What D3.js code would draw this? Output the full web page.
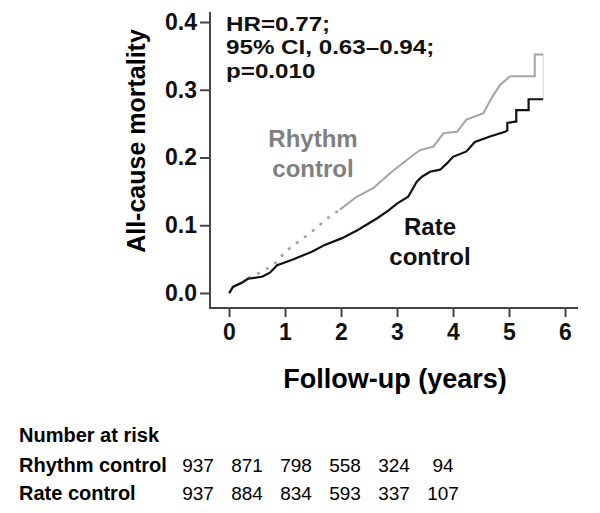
<!DOCTYPE html>
<html>
<head>
<meta charset="utf-8">
<script src="https://cdn.jsdelivr.net/npm/d3@7"></script>
<style>
  body { margin: 0; background: #fff; }
  svg { font-family: "Liberation Sans", Arial, sans-serif; }
</style>
</head>
<body>
<svg width="600" height="513"></svg>
<script>
// x ticks (years) and y ticks
var years = [0, 1, 2, 3, 4, 5, 6];
var yTicks = [0, 0.1, 0.2, 0.3, 0.4];

// Kaplan-Meier curves: [years, cumulative mortality]
var rhythmCurve = [
  [0, 0], [0.02, 0.002], [0.07, 0.009], [0.23, 0.016], [0.34, 0.022], [0.55, 0.03],
  [0.7, 0.037], [0.86, 0.046], [1.0, 0.061], [1.18, 0.072], [1.47, 0.09], [1.8, 0.113],
  [1.98, 0.123], [2.28, 0.142], [2.58, 0.155], [2.88, 0.177], [3.17, 0.196],
  [3.41, 0.211], [3.65, 0.216], [3.83, 0.236], [4.07, 0.238], [4.24, 0.256],
  [4.54, 0.265], [4.69, 0.288], [4.84, 0.307], [5.02, 0.32], [5.46, 0.32],
  [5.46, 0.352], [5.61, 0.352]
];
var rateCurve = [
  [0, 0], [0.02, 0.002], [0.07, 0.009], [0.23, 0.015], [0.34, 0.021], [0.59, 0.024],
  [0.73, 0.03], [0.86, 0.041], [1.13, 0.049], [1.48, 0.061], [1.71, 0.071], [2.02, 0.081],
  [2.3, 0.093], [2.64, 0.11], [2.85, 0.122], [3.0, 0.132], [3.2, 0.142],
  [3.35, 0.164], [3.45, 0.172], [3.59, 0.179], [3.77, 0.182], [3.9, 0.192], [4.0, 0.201],
  [4.24, 0.209], [4.39, 0.223], [4.66, 0.231], [4.93, 0.238], [4.97, 0.24], [4.97, 0.251],
  [5.11, 0.253], [5.13, 0.253], [5.13, 0.27], [5.35, 0.27], [5.35, 0.286], [5.61, 0.286]
];

// number at risk table
var riskGroups = ["Rhythm control", "Rate control"];
var riskRhythm = [937, 871, 798, 558, 324, 94];
var riskRate = [937, 884, 834, 593, 337, 107];
var riskCols = [0, 1, 2, 3, 4, 5];

var svg = d3.select("svg");

var x = d3.scaleLinear().domain([0, 6]).range([229, 565]);
var y = d3.scaleLinear().domain([0, 0.4]).range([293, 22]);

var axisX = 210, axisY = 308, axisColor = "#444";

// y axis
var gy = svg.append("g")
    .attr("transform", "translate(" + axisX + ",0)")
    .call(d3.axisLeft(y).tickValues(yTicks).tickSize(10).tickPadding(3).tickFormat(d3.format(".1f")));
gy.select(".domain").remove();
gy.selectAll("line").attr("stroke", axisColor).attr("stroke-width", 2);
gy.selectAll("text").attr("font-size", 23).attr("font-weight", "bold").attr("fill", "#111")
    .attr("font-family", "Liberation Sans, Arial, sans-serif");
svg.append("line")
    .attr("x1", axisX).attr("x2", axisX).attr("y1", 12).attr("y2", axisY + 1)
    .attr("stroke", axisColor).attr("stroke-width", 2);

// x axis
var gx = svg.append("g")
    .attr("transform", "translate(0," + axisY + ")")
    .call(d3.axisBottom(x).tickValues(years).tickSize(9).tickPadding(7).tickFormat(d3.format("d")));
gx.select(".domain").remove();
gx.selectAll("line").attr("stroke", axisColor).attr("stroke-width", 2);
gx.selectAll("text").attr("font-size", 23).attr("font-weight", "bold").attr("fill", "#111")
    .attr("font-family", "Liberation Sans, Arial, sans-serif");
svg.append("line")
    .attr("x1", axisX - 1).attr("x2", 578).attr("y1", axisY).attr("y2", axisY)
    .attr("stroke", axisColor).attr("stroke-width", 2);

// axis titles
svg.append("text")
    .attr("x", 395).attr("y", 388)
    .attr("text-anchor", "middle")
    .attr("font-size", 27).attr("font-weight", "bold")
    .text("Follow-up (years)");

svg.append("text")
    .attr("transform", "translate(145,141) rotate(-90)")
    .attr("text-anchor", "middle")
    .attr("font-size", 25).attr("font-weight", "bold")
    .text("All-cause mortality");

// curves
var line = d3.line()
    .x(function(d) { return x(d[0]); })
    .y(function(d) { return y(d[1]); });

var last = rhythmCurve.length - 1;
svg.append("line")
    .attr("x1", x(rhythmCurve[last][0])).attr("x2", x(rhythmCurve[last][0]))
    .attr("y1", y(rhythmCurve[last][1])).attr("y2", y(rateCurve[rateCurve.length - 1][1]))
    .attr("stroke", "#d4d4d4").attr("stroke-width", 1);

svg.append("path")
    .datum(rhythmCurve.filter(function(d) { return d[0] <= 0.34; }))
    .attr("fill", "none").attr("stroke", "#a3a3a3").attr("stroke-width", 2)
    .attr("d", line);
svg.append("path")
    .datum(rhythmCurve.filter(function(d) { return d[0] >= 0.34 && d[0] <= 1.98; }))
    .attr("fill", "none").attr("stroke", "#a3a3a3").attr("stroke-width", 2.5)
    .attr("stroke-dasharray", "3,7")
    .attr("d", line);
svg.append("path")
    .datum(rhythmCurve.filter(function(d) { return d[0] >= 1.98; }))
    .attr("fill", "none").attr("stroke", "#a3a3a3").attr("stroke-width", 2)
    .attr("d", line);

svg.append("path")
    .datum(rateCurve)
    .attr("fill", "none").attr("stroke", "#111").attr("stroke-width", 2.2)
    .attr("d", line);

// annotations (glyphs in the reference are wide, so stretch horizontally)
var stats = ["HR=0.77;", "95% CI, 0.63\u20130.94;", "p=0.010"];
svg.append("g")
    .attr("transform", "translate(226,0) scale(1.18,1)")
  .selectAll("text")
    .data(stats)
    .enter().append("text")
      .attr("x", 0)
      .attr("y", function(d, i) { return 31 + i * 23.5; })
      .attr("font-size", 20.5).attr("font-weight", "bold").attr("fill", "#111")
      .text(function(d) { return d; });

function label(lines, cx, y0, color) {
  svg.append("g").selectAll("text")
      .data(lines)
      .enter().append("text")
        .attr("x", cx)
        .attr("y", function(d, i) { return y0 + i * 30; })
        .attr("text-anchor", "middle")
        .attr("font-size", 24).attr("font-weight", "bold").attr("fill", color)
        .text(function(d) { return d; });
}
label(["Rhythm", "control"], 313, 147, "#808080");
label(["Rate", "control"], 430, 235, "#111");

// number at risk
var cx = d3.scaleLinear().domain([0, 5]).range([198, 443]);

svg.append("text")
    .attr("x", 19).attr("y", 442)
    .attr("font-size", 20).attr("font-weight", "bold")
    .text("Number at risk");

[riskRhythm, riskRate].forEach(function(row, r) {
  var yy = 472 + r * 28;
  svg.append("text")
      .attr("x", 19).attr("y", yy)
      .attr("font-size", 20).attr("font-weight", "bold")
      .text(riskGroups[r]);
  svg.append("g").selectAll("text")
      .data(riskCols)
      .enter().append("text")
        .attr("x", function(i) { return cx(i); })
        .attr("y", yy)
        .attr("text-anchor", "middle")
        .attr("font-size", 19)
        .text(function(i) { return row[i]; });
});
</script>
</body>
</html>
